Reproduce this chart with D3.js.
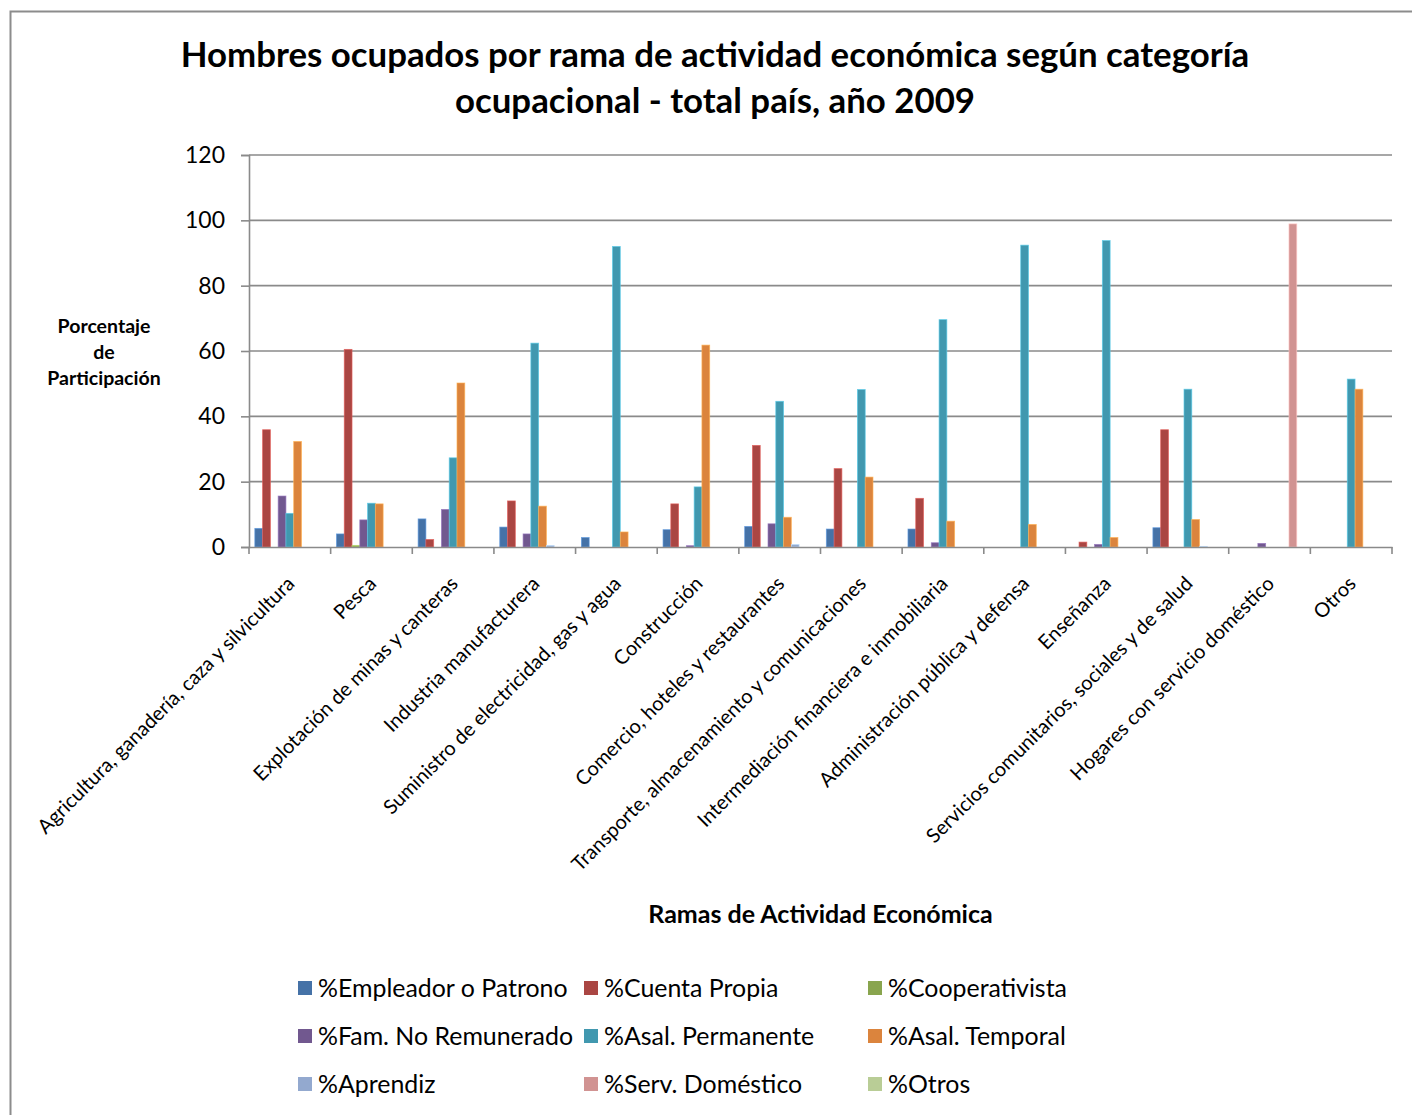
<!DOCTYPE html>
<html lang="es">
<head>
<meta charset="utf-8">
<title>Hombres ocupados por rama de actividad económica</title>
<script src="https://cdn.jsdelivr.net/npm/d3@7"></script>
<style>
  html, body { margin: 0; padding: 0; background: #fff; }
  svg { display: block; font-family: Lato, "Open Sans", sans-serif; }
</style>
</head>
<body>
<svg id="chart" width="1412" height="1115"></svg>
<script>
// Ramas de actividad económica (eje X)
const categories = [
  "Agricultura, ganadería, caza y silvicultura",
  "Pesca",
  "Explotación de minas y canteras",
  "Industria manufacturera",
  "Suministro de electricidad, gas y agua",
  "Construcción",
  "Comercio, hoteles y restaurantes",
  "Transporte, almacenamiento y comunicaciones",
  "Intermediación financiera e inmobiliaria",
  "Administración pública y defensa",
  "Enseñanza",
  "Servicios comunitarios, sociales y de salud",
  "Hogares con servicio doméstico",
  "Otros"
];

// Categoría ocupacional (series)
const seriesNames = [
  "%Empleador o Patrono", "%Cuenta Propia", "%Cooperativista",
  "%Fam. No Remunerado", "%Asal. Permanente", "%Asal. Temporal",
  "%Aprendiz", "%Serv. Doméstico", "%Otros"
];

// Porcentaje de participación por rama
const empleador     = [5.7, 4.0, 8.6, 6.1, 2.9, 5.3, 6.3, 5.5, 5.5, 0, 0, 5.9, 0, 0];
const cuentaPropia  = [35.9, 60.5, 2.3, 14.1, 0, 13.2, 31.1, 24.0, 14.9, 0, 1.5, 35.9, 0, 0];
const cooperativista= [0, 0.5, 0, 0, 0, 0, 0, 0, 0, 0, 0, 0, 0, 0];
const famNoRemun    = [15.6, 8.3, 11.5, 4.0, 0, 0.4, 7.1, 0, 1.3, 0, 0.8, 0, 1.1, 0];
const asalPermanente= [10.3, 13.4, 27.3, 62.4, 92.0, 18.4, 44.6, 48.2, 69.6, 92.4, 93.8, 48.3, 0, 51.4];
const asalTemporal  = [32.3, 13.2, 50.2, 12.5, 4.6, 61.8, 9.1, 21.4, 7.9, 6.9, 2.9, 8.4, 0, 48.3];
const aprendiz      = [0, 0, 0, 0.5, 0, 0, 0.8, 0, 0, 0, 0, 0.2, 0, 0];
const servDomestico = [0, 0, 0, 0, 0, 0, 0, 0, 0, 0, 0, 0, 98.9, 0];
const otros         = [0, 0, 0, 0, 0, 0, 0, 0, 0, 0, 0, 0, 0, 0];

const yTicks = [0, 20, 40, 60, 80, 100, 120];

const seriesValues = [empleador, cuentaPropia, cooperativista, famNoRemun,
  asalPermanente, asalTemporal, aprendiz, servDomestico, otros];
const colors = ["#4572A7", "#AA4643", "#89A54E", "#71588F", "#4198AF",
  "#DB843D", "#93A9CF", "#D19392", "#B9CD96"];

const svg = d3.select("#chart");

// Marco exterior del gráfico
svg.append("rect")
  .attr("x", 10.5).attr("y", 11.5)
  .attr("width", 1420).attr("height", 1120)
  .attr("fill", "none").attr("stroke", "#8c8c8c").attr("stroke-width", 2);

const plot = { left: 249, right: 1392, top: 155, bottom: 547 };

const x = d3.scaleBand()
  .domain(categories)
  .range([plot.left, plot.right])
  .paddingInner(0).paddingOuter(0);

const barW = x.bandwidth() / 10.5;
const xs = d3.scaleBand()
  .domain(seriesNames)
  .range([0.75 * barW, 9.75 * barW])
  .padding(0);

const y = d3.scaleLinear().domain([0, 120]).range([plot.bottom, plot.top]);

// Líneas de cuadrícula
svg.append("g")
  .selectAll("line")
  .data(yTicks.filter(d => d > 0))
  .join("line")
  .attr("x1", plot.left).attr("x2", plot.right)
  .attr("y1", d => y(d)).attr("y2", d => y(d))
  .attr("stroke", "#8a8a8a").attr("stroke-width", 1.6);

// Eje Y
const yAxis = svg.append("g")
  .attr("transform", `translate(${plot.left},0)`)
  .call(d3.axisLeft(y).tickValues(yTicks).tickSize(8).tickPadding(16));
yAxis.select(".domain").attr("stroke", "#8a8a8a").attr("stroke-width", 1.6);
yAxis.selectAll(".tick line").attr("stroke", "#8a8a8a").attr("stroke-width", 1.6);
yAxis.selectAll(".tick text")
  .attr("font-size", 23).attr("fill", "#000")
  .attr("font-family", "Lato, sans-serif");

// Barras agrupadas
const groups = svg.append("g")
  .selectAll("g")
  .data(seriesValues)
  .join("g")
  .attr("fill", (d, i) => colors[i]);

groups.each(function(vals, si) {
  const stroke = d3.color(colors[si]).brighter(0.8);
  d3.select(this).selectAll("rect")
    .data(vals.map((v, ci) => ({ v, c: categories[ci] })).filter(d => d.v > 0))
    .join("rect")
    .attr("x", d => x(d.c) + xs(seriesNames[si]))
    .attr("width", xs.bandwidth())
    .attr("y", d => y(d.v))
    .attr("height", d => y(0) - y(d.v))
    .attr("stroke", stroke).attr("stroke-width", 0.8).attr("stroke-opacity", 0.8);
});

// Eje X
const xAxis = svg.append("g")
  .attr("transform", `translate(0,${plot.bottom})`)
  .call(d3.axisBottom(x).tickSize(0).tickFormat(""));
xAxis.select(".domain").attr("stroke", "#8a8a8a").attr("stroke-width", 1.6);
xAxis.selectAll(".tick").remove();

// Marcas entre categorías
const bounds = categories.map(c => x(c)).concat([plot.right]);
svg.append("g")
  .selectAll("line")
  .data(bounds)
  .join("line")
  .attr("x1", d => d).attr("x2", d => d)
  .attr("y1", plot.bottom).attr("y2", plot.bottom + 7)
  .attr("stroke", "#8a8a8a").attr("stroke-width", 1.6);

// Etiquetas de categoría giradas
svg.append("g")
  .selectAll("text")
  .data(categories)
  .join("text")
  .attr("transform", d => `translate(${x(d) + x.bandwidth() / 2 + 1},${plot.bottom + 33}) rotate(-45)`)
  .attr("text-anchor", "end")
  .attr("dy", "0.35em")
  .attr("font-size", 20)
  .attr("fill", "#000")
  .text(d => d);

// Título
const title = svg.append("text")
  .attr("x", 715).attr("text-anchor", "middle")
  .attr("font-size", 34.8).attr("font-weight", "bold").attr("fill", "#000");
title.append("tspan").attr("x", 715).attr("y", 67)
  .text("Hombres ocupados por rama de actividad económica según categoría");
title.append("tspan").attr("x", 715).attr("y", 113)
  .text("ocupacional - total país, año 2009");

// Título eje Y
const yTitle = svg.append("text")
  .attr("text-anchor", "middle")
  .attr("font-size", 19.5).attr("font-weight", "bold").attr("fill", "#000");
["Porcentaje", "de", "Participación"].forEach((t, i) => {
  yTitle.append("tspan").attr("x", 104).attr("y", 333 + i * 26).text(t);
});

// Título eje X
svg.append("text")
  .attr("x", (plot.left + plot.right) / 2).attr("y", 923)
  .attr("text-anchor", "middle")
  .attr("font-size", 25).attr("font-weight", "bold").attr("fill", "#000")
  .text("Ramas de Actividad Económica");

// Leyenda (3 columnas)
const legendCols = [298, 584, 868];
const legendRows = [988, 1036, 1084];
const legend = svg.append("g")
  .selectAll("g")
  .data(seriesNames)
  .join("g")
  .attr("transform", (d, i) => `translate(${legendCols[i % 3]},${legendRows[Math.floor(i / 3)]})`);
legend.append("rect")
  .attr("x", 0).attr("y", -7).attr("width", 14).attr("height", 14)
  .attr("fill", (d, i) => colors[i]);
legend.append("text")
  .attr("x", 20).attr("dy", "0.35em")
  .attr("font-size", 24.9).attr("fill", "#000")
  .text(d => d);
</script>
</body>
</html>
